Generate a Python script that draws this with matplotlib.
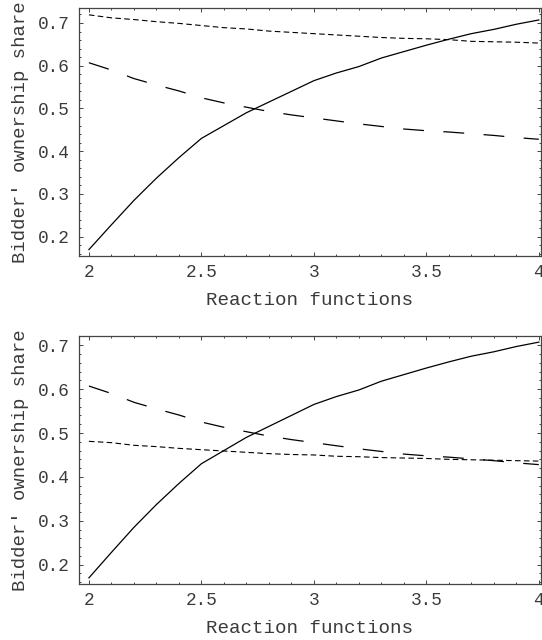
from matplotlib import pyplot as plt
from matplotlib.ticker import MultipleLocator

# reaction function values (x axis)
x = [2.0, 2.1, 2.2, 2.3, 2.4, 2.5, 2.6, 2.7, 2.8, 2.9, 3.0,
     3.1, 3.2, 3.3, 3.4, 3.5, 3.6, 3.7, 3.8, 3.9, 4.0]

# solid curve, same in both panels
solid = [0.170, 0.228, 0.285, 0.337, 0.385, 0.430, 0.460, 0.490, 0.515, 0.540, 0.565,
         0.583, 0.598, 0.618, 0.633, 0.648, 0.662, 0.675, 0.685, 0.697, 0.707]

# long dashed curve, same in both panels
long_dash = [0.607, 0.590, 0.570, 0.555, 0.541, 0.525, 0.513, 0.503, 0.493, 0.485, 0.478,
             0.471, 0.464, 0.458, 0.452, 0.448, 0.445, 0.441, 0.437, 0.432, 0.428]

# short dashed curve, top panel
short_top = [0.719, 0.712, 0.708, 0.703, 0.699, 0.694, 0.689, 0.686, 0.681, 0.678, 0.675,
             0.672, 0.669, 0.666, 0.664, 0.663, 0.661, 0.657, 0.656, 0.655, 0.653]

# short dashed curve, bottom panel
short_bottom = [0.481, 0.478, 0.472, 0.469, 0.465, 0.462, 0.459, 0.456, 0.453, 0.451, 0.450,
                0.447, 0.446, 0.444, 0.443, 0.442, 0.440, 0.439, 0.438, 0.437, 0.436]

x_ticks = [2, 2.5, 3, 3.5, 4]
x_tick_labels = ['2', '2.5', '3', '3.5', '4']
y_ticks = [0.2, 0.3, 0.4, 0.5, 0.6, 0.7]
y_tick_labels = ['0.2', '0.3', '0.4', '0.5', '0.6', '0.7']

FONT = 'Liberation Mono'
TEXT = '#3a3a3a'


def draw_panel(ax, short, ylim):
    ax.plot(x, solid, color='black', lw=0.9)
    ax.plot(x, long_dash, color='black', lw=0.9, dashes=(15, 14))
    ax.plot(x, short, color='black', lw=0.8, dashes=(4, 2.4))

    ax.set_xlim(1.956, 4.009)
    ax.set_ylim(*ylim)

    ax.set_xticks(x_ticks)
    ax.set_xticklabels(x_tick_labels, family=FONT, fontsize=12.8, color=TEXT)
    ax.set_yticks(y_ticks)
    ax.set_yticklabels(y_tick_labels, family=FONT, fontsize=12.8, color=TEXT)
    ax.xaxis.set_minor_locator(MultipleLocator(0.1))
    ax.yaxis.set_minor_locator(MultipleLocator(0.02))
    ax.tick_params(which='both', direction='in', top=True, right=True, color='#444444', width=0.7)
    ax.tick_params(which='major', length=3.2)
    ax.tick_params(which='minor', length=1.6)
    ax.tick_params(axis='x', pad=6)
    ax.tick_params(axis='y', pad=7)

    for side in ax.spines.values():
        side.set_color('#444444')
        side.set_linewidth(0.9)

    ax.set_xlabel('Reaction functions', family=FONT, fontsize=13.8, color=TEXT, labelpad=7.5)
    ax.set_ylabel("Bidder' ownership share", family=FONT, fontsize=13.6, color=TEXT, labelpad=6)


def main():
    plt.rcParams['lines.scale_dashes'] = False
    fig = plt.figure(figsize=(5.42, 6.40), dpi=100)

    ax1 = fig.add_axes([0.1458, 0.6, 0.852, 0.3875])
    draw_panel(ax1, short_top, (0.155, 0.735))

    ax2 = fig.add_axes([0.1458, 0.0875, 0.852, 0.3875])
    draw_panel(ax2, short_bottom, (0.156, 0.721))

    fig.savefig('out.png', dpi=100)


if __name__ == '__main__':
    main()
